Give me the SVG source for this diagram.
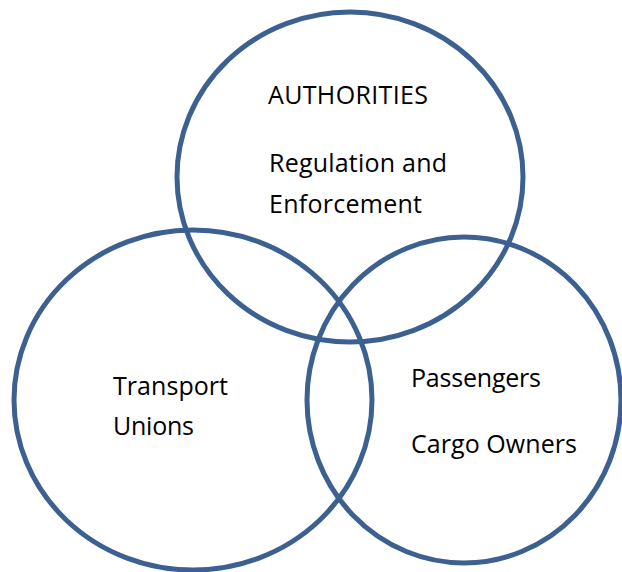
<svg xmlns="http://www.w3.org/2000/svg" width="622" height="572" viewBox="0 0 622 572">
<style>
.c{fill:none;stroke:#3c6090;stroke-width:5}
.t{font-family:"Open Sans","Liberation Sans",sans-serif;font-size:25px;fill:#000}
</style>
<rect width="622" height="572" fill="#fff"/>
<g id="authorities">
<ellipse class="c" cx="350" cy="177" rx="173" ry="165"/>
<text class="t" x="268" y="104" textLength="160">AUTHORITIES</text>
<text class="t" x="269" y="172" textLength="178">Regulation and</text>
<text class="t" x="269" y="213" textLength="153">Enforcement</text>
</g>
<g id="unions">
<ellipse class="c" cx="193" cy="400" rx="179" ry="170"/>
<text class="t" x="113" y="395" textLength="115">Transport</text>
<text class="t" x="113" y="435" textLength="81">Unions</text>
</g>
<g id="passengers">
<ellipse class="c" cx="464" cy="400" rx="157" ry="163"/>
<text class="t" x="411" y="387" textLength="130">Passengers</text>
<text class="t" x="411" y="453" textLength="166">Cargo Owners</text>
</g>
<g id="connectors"/>
</svg>
